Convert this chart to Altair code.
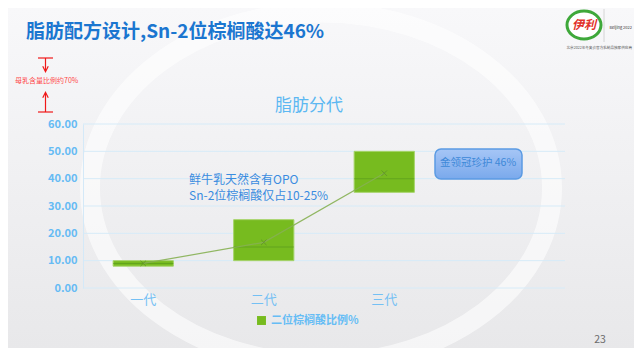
import altair as alt
import pandas as pd

# ---------------- data ----------------
generations = ["一代", "二代", "三代"]
low_values = [8.0, 10.0, 35.0]
high_values = [10.0, 25.0, 50.0]
mid_values = [9.0, 15.0, 40.0]
trend_values = [9.0, 16.7, 42.0]
series_name = "二位棕榈酸比例%"
y_ticks = [0, 10, 20, 30, 40, 50, 60]
x_domain = generations + [" "]

main_title = "脂肪配方设计,Sn-2位棕榈酸达46%"
chart_title = "脂肪分代"
note_lines = ["鲜牛乳天然含有OPO", "Sn-2位棕榈酸仅占10-25%"]
box_label = "金领冠珍护 46%"
red_note = "母乳含量比例约70%"
page_no = "23"

df = pd.DataFrame({
    "gen": generations,
    "low": low_values,
    "high": high_values,
    "mid": mid_values,
    "trend": trend_values,
    "series": [series_name] * len(generations),
})
grid_df = pd.DataFrame({"tick": y_ticks})

FONT = "Noto Sans CJK SC"
W, H = 482, 164
PL, PT = 75, 116


def px(X):
    return X - 8 - PL


def py(Y):
    return Y - 8 - PT


one = alt.Data(values=[{}])

x_axis = alt.Axis(title=None, labelColor="#74c0f4", labelFontSize=13, labelAngle=0,
                  domain=False, ticks=False, labelPadding=5, labelFont=FONT,
                  grid=False, zindex=1)
x_scale = alt.Scale(domain=x_domain, paddingInner=0.5, paddingOuter=0.25)
y_scale = alt.Scale(domain=[0, 60], nice=False, zero=True)
y_axis = alt.Axis(title=None, values=y_ticks, format=".2f", labelColor="#66bbf4",
                  labelFontSize=11, labelFontWeight="bold", labelFont=FONT,
                  ticks=False, domain=True, domainColor="#d4e9f8", labelPadding=6,
                  grid=False, labelOverlap=False, zindex=1)


def X():
    return alt.X("gen:N", sort=x_domain, scale=x_scale, axis=x_axis)


def Y(field):
    return alt.Y(field, scale=y_scale, axis=y_axis)


base = alt.Chart(df)

# slide background (light gradient) and decoration ring
bg = alt.Chart(one).mark_rect(
    color=alt.LinearGradient(gradient="linear",
                             stops=[alt.GradientStop(color="#f8f8fa", offset=0),
                                    alt.GradientStop(color="#e8e8ea", offset=1)],
                             x1=0, x2=0, y1=0, y2=1),
).encode(x=alt.value(px(8)), x2=alt.value(px(634)), y=alt.value(py(8)), y2=alt.value(py(348)))

ring = alt.Chart(one).mark_point(
    shape="M-1,0A1,0.76,0,1,1,1,0A1,0.76,0,1,1,-1,0Z",
    size=462 * 462, filled=False, stroke="white", strokeWidth=20, opacity=0.6,
).encode(x=alt.value(px(321)), y=alt.value(py(188)))

grid = alt.Chart(grid_df).mark_rule(color="#d6ebf8", strokeWidth=1).encode(
    y=Y("tick:Q"), x=alt.value(0), x2=alt.value(W))

bars = base.mark_bar(stroke="#a6d46a", strokeWidth=1).encode(
    x=X(),
    y=Y("low:Q"),
    y2="high:Q",
    color=alt.Color("series:N", scale=alt.Scale(range=["#77bb1f"]),
                    legend=alt.Legend(title=None, orient="none",
                                      legendX=px(256), legendY=py(315),
                                      symbolType="square", symbolSize=80,
                                      symbolStrokeWidth=0, labelColor="#66bdf5",
                                      labelFontSize=11, labelFont=FONT,
                                      labelFontWeight="bold")),
)

mids = base.mark_tick(thickness=1, size=60, color="#5a9a1c").encode(x=X(), y=Y("mid:Q"))

trend_line = base.mark_line(color="#86b052", strokeWidth=1.2, opacity=0.9).encode(
    x=X(), y=Y("trend:Q"))
trend_pts = base.mark_point(shape="M-1,-1L1,1M-1,1L1,-1", size=30, filled=False,
                            color="#5d8c2c", strokeWidth=1).encode(x=X(), y=Y("trend:Q"))

# texts
t_main = alt.Chart(one).mark_text(text=main_title, font=FONT, fontSize=19, fontWeight="bold",
                                  color="#1b76d0", align="left", baseline="middle").encode(
    x=alt.value(px(26)), y=alt.value(py(32)))
t_title = alt.Chart(one).mark_text(text=chart_title, font=FONT, fontSize=17,
                                   color="#5cb8f2", align="center", baseline="middle").encode(
    x=alt.value(px(309)), y=alt.value(py(106)))
t_note = alt.Chart(one).mark_text(text=note_lines, font=FONT, fontSize=12, lineHeight=16,
                                  color="#3a8ce0", align="left", baseline="middle").encode(
    x=alt.value(px(189)), y=alt.value(py(180)))

box = alt.Chart(one).mark_rect(
    cornerRadius=6, stroke="#5b9be3", strokeWidth=1.5,
    color=alt.LinearGradient(gradient="linear",
                             stops=[alt.GradientStop(color="#a6c6f6", offset=0),
                                    alt.GradientStop(color="#7aa9ec", offset=1)],
                             x1=0, x2=0, y1=0, y2=1),
).encode(x=alt.value(px(435)), x2=alt.value(px(522)), y=alt.value(py(149)), y2=alt.value(py(179)))
t_box = alt.Chart(one).mark_text(text=box_label, font=FONT, fontSize=10.5,
                                 color="#3d88d8", align="center", baseline="middle").encode(
    x=alt.value(px(478)), y=alt.value(py(163)))

# red annotation
red = "#f01818"
r1 = alt.Chart(one).mark_rule(color=red, strokeWidth=1.2).encode(
    x=alt.value(px(38)), x2=alt.value(px(53)), y=alt.value(py(58)))
r2 = alt.Chart(one).mark_rule(color=red, strokeWidth=1.2).encode(
    x=alt.value(px(45.5)), y=alt.value(py(58)), y2=alt.value(py(71)))
r3 = alt.Chart(one).mark_rule(color=red, strokeWidth=1.2).encode(
    x=alt.value(px(38)), x2=alt.value(px(53)), y=alt.value(py(112)))
r4 = alt.Chart(one).mark_rule(color=red, strokeWidth=1.2).encode(
    x=alt.value(px(45.5)), y=alt.value(py(93)), y2=alt.value(py(112)))
a1 = alt.Chart(one).mark_point(shape="M-1,-1L0,1L1,-1", size=30, filled=False, color=red,
                               strokeWidth=1.2, opacity=1).encode(
    x=alt.value(px(45.5)), y=alt.value(py(69)))
a2 = alt.Chart(one).mark_point(shape="M-1,1L0,-1L1,1", size=30, filled=False, color=red,
                               strokeWidth=1.2, opacity=1).encode(
    x=alt.value(px(45.5)), y=alt.value(py(95)))
t_red = alt.Chart(one).mark_text(text=red_note, font=FONT, fontSize=7, color="#ff4a4a",
                                 align="left", baseline="middle").encode(
    x=alt.value(px(15)), y=alt.value(py(81)))

# logo approximation
logo_ring = alt.Chart(one).mark_point(
    shape="M-1,0A1,0.82,0,1,1,1,0A1,0.82,0,1,1,-1,0Z", size=34 * 34, filled=True,
    fill="white", stroke="#3ea83a", strokeWidth=3, opacity=1).encode(
    x=alt.value(px(584)), y=alt.value(py(25)))
logo_text = alt.Chart(one).mark_text(text="伊利", font=FONT, fontSize=12, fontWeight="bold",
                                     fontStyle="italic", color="#e2312b").encode(
    x=alt.value(px(584)), y=alt.value(py(25)))
logo_sep = alt.Chart(one).mark_rule(color="#cccccc", strokeWidth=0.8).encode(
    x=alt.value(px(604)), y=alt.value(py(9)), y2=alt.value(py(42)))
logo_bj = alt.Chart(one).mark_text(text="Beijing 2022", font=FONT, fontSize=4, color="#333333",
                                   align="right").encode(
    x=alt.value(px(632)), y=alt.value(py(28)))
logo_sub = alt.Chart(one).mark_text(text="北京2022年冬奥会官方乳制品独家供应商", font=FONT, fontSize=3.6,
                                    color="#555555", align="right").encode(
    x=alt.value(px(632)), y=alt.value(py(48)))

t_page = alt.Chart(one).mark_text(text=page_no, font=FONT, fontSize=10.5, color="#6b6b6b",
                                  baseline="middle").encode(
    x=alt.value(px(600)), y=alt.value(py(340)))

chart = alt.layer(
    bg, ring, grid, bars, mids, trend_line, trend_pts,
    t_main, t_title, t_note, box, t_box,
    r1, r2, r3, r4, a1, a2, t_red,
    logo_ring, logo_text, logo_sep, logo_bj, logo_sub, t_page,
).properties(
    width=W, height=H,
    autosize=alt.AutoSizeParams(type="none"),
    padding={"left": PL, "top": PT, "right": 626 - PL - W, "bottom": 340 - PT - H},
    background="#f1f1f3",
).configure_view(stroke=None)

chart.save("out.html", embed_options={"renderer": "svg", "actions": False})
